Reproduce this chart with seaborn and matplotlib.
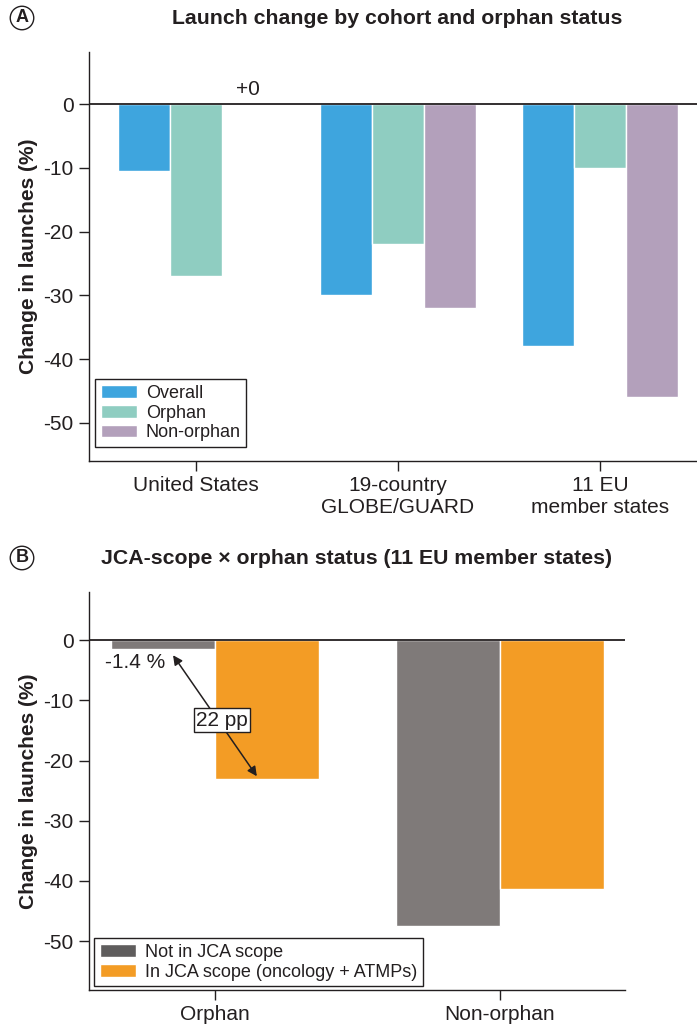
import matplotlib
matplotlib.use("Agg")
import matplotlib.pyplot as plt
import seaborn as sns
import pandas as pd

# panel A data
cohorts = ["United States", "19-country\nGLOBE/GUARD", "11 EU\nmember states"]
status_a = ["Overall", "Orphan", "Non-orphan"]
overall = [-10.5, -30.0, -38.0]
orphan = [-27.0, -22.0, -10.0]
non_orphan = [0.0, -32.0, -46.0]

# panel B data
groups_b = ["Orphan", "Non-orphan"]
scope_b = ["Not in JCA scope", "In JCA scope (oncology + ATMPs)"]
not_jca = [-1.4, -47.5]
in_jca = [-23.0, -41.4]

colors_a = ["#3ea5de", "#8fcdc1", "#b3a0bb"]
colors_b = ["#7f7a79", "#f39c25"]
ink = "#231f20"

sns.set_theme(style="ticks")
plt.rcParams["font.family"] = ["Liberation Sans", "DejaVu Sans"]
plt.rcParams["axes.unicode_minus"] = False
plt.rcParams["text.color"] = ink
plt.rcParams["axes.labelcolor"] = ink
plt.rcParams["xtick.color"] = ink
plt.rcParams["ytick.color"] = ink
plt.rcParams["axes.edgecolor"] = ink

df_a = pd.DataFrame({
    "cohort": cohorts * 3,
    "status": [s for s in status_a for _ in cohorts],
    "value": overall + orphan + non_orphan,
})
df_b = pd.DataFrame({
    "group": groups_b * 2,
    "scope": [s for s in scope_b for _ in groups_b],
    "value": not_jca + in_jca,
})

fig = plt.figure(figsize=(6.97, 10.28), dpi=100)
ax_a = fig.add_axes([0.1277, 0.5516, 0.8723, 0.3978])
ax_b = fig.add_axes([0.1277, 0.0370, 0.7690, 0.3871])

sns.barplot(data=df_a, x="cohort", y="value", hue="status", palette=colors_a,
            width=0.77, gap=0, saturation=1, ax=ax_a)
sns.barplot(data=df_b, x="group", y="value", hue="scope", palette=colors_b,
            width=0.73, gap=0, saturation=1, ax=ax_b)

for ax in (ax_a, ax_b):
    sns.despine(ax=ax)
    ax.axhline(0, color=ink, lw=1.3, zorder=3)
    ax.set_xlabel("")
    ax.set_ylabel("Change in launches (%)", fontsize=15, fontweight="bold", labelpad=4)
    ax.set_yticks([0, -10, -20, -30, -40, -50])
    ax.tick_params(axis="both", labelsize=15, length=7, width=1, pad=4)
    for s in ax.spines.values():
        s.set_linewidth(1)

ax_a.set_xlim(-0.53, 2.48)
ax_a.set_ylim(-56, 8.2)
ax_b.set_xlim(-0.442, 1.439)
ax_b.set_ylim(-58.1, 8.0)

# labels on bars
ax_a.bar_label(ax_a.containers[2], labels=["+0", "", ""], padding=4, fontsize=15)
ax_b.text(-0.28, not_jca[0] - 2.3, "-1.4 %", fontsize=15, ha="center", va="center")
ax_b.annotate("", xy=(0.147, -22.6), xytext=(-0.147, -2.5),
              arrowprops=dict(arrowstyle="<|-|>", color=ink, lw=1.1,
                              mutation_scale=14, shrinkA=0, shrinkB=0))
gap_pp = round(abs(in_jca[0] - not_jca[0]))
ax_b.text(0.025, -13.3, f"{gap_pp} pp", fontsize=15, ha="center", va="center",
          bbox=dict(boxstyle="square,pad=0.12", fc="white", ec=ink, lw=1))

# legends
leg_a = ax_a.legend(loc="lower left", bbox_to_anchor=(0.01, 0.035), fontsize=13,
                    frameon=True, fancybox=False, edgecolor=ink, framealpha=1,
                    handlelength=2.0, handleheight=0.7, handletextpad=0.5,
                    borderpad=0.3, labelspacing=0.15, borderaxespad=0)
leg_a.get_frame().set_linewidth(1)
leg_b = ax_b.legend(loc="lower left", bbox_to_anchor=(0.01, 0.01), fontsize=13,
                    frameon=True, fancybox=False, edgecolor=ink, framealpha=1,
                    handlelength=2.0, handleheight=0.7, handletextpad=0.5,
                    borderpad=0.3, labelspacing=0.15, borderaxespad=0)
leg_b.get_frame().set_linewidth(1)
leg_b.legend_handles[0].set_facecolor("#5f5d5d")

# titles and panel letters
fig.text(0.57, 1 - 18 / 1028, "Launch change by cohort and orphan status",
         ha="center", va="center", fontsize=15.3, fontweight="bold")
fig.text(0.512, 1 - 558 / 1028, "JCA-scope \u00d7 orphan status (11 EU member states)",
         ha="center", va="center", fontsize=15.3, fontweight="bold")
for y, letter in [(18, "A"), (558, "B")]:
    fig.text(22 / 697, 1 - y / 1028, letter, ha="center", va="center",
             fontsize=13, fontweight="bold",
             bbox=dict(boxstyle="circle,pad=0.18", fc="white", ec=ink, lw=1))

fig.savefig("out.png", dpi=100)
